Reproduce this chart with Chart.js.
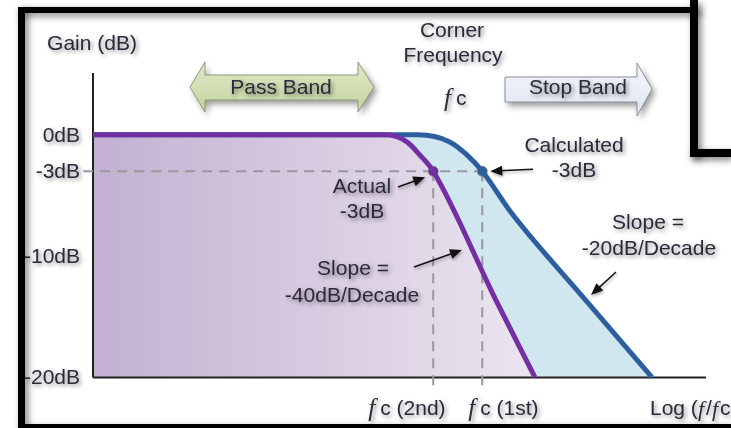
<!DOCTYPE html>
<html>
<head>
<meta charset="utf-8">
<script src="https://cdn.jsdelivr.net/npm/chart.js@4.4.1/dist/chart.umd.min.js"></script>
<style>
  html, body { margin: 0; padding: 0; background: #fff; }
  canvas { display: block; }
</style>
</head>
<body>
<canvas id="filterChart" width="731" height="428"></canvas>
<script>
// gain axis (dB)
const gainTicks = [0, -3, -10, -20];
const gainLabels = ['0dB', '-3dB', '-10dB', '-20dB'];

// x = log(f/fc), arbitrary units (0..10 across the axis)
// actual 2nd order response (purple)
const actualX    = [0, 4.80, 5.12, 5.33, 5.55, 6.57, 7.21];
const actualGain = [0, 0, -0.58, -1.65, -3, -13.6, -20];

// calculated 1st order response (blue)
const calcX    = [0, 5.30, 5.82, 6.10, 6.35, 6.84, 7.98, 9.12];
const calcGain = [0, 0, -0.58, -1.65, -3, -6.53, -13.3, -20];

// -3dB corner points: 2nd, 1st
const cornerX = [5.55, 6.35];
const cornerGain = -3;
const cornerLabels = ['c (2nd)', 'c (1st)'];

const FONT = '21px "Liberation Sans", Arial, sans-serif';
const INK = '#2a2a3a';

function pts(xs, ys) {
  return xs.map((x, i) => ({ x: x, y: ys[i] }));
}

function txt(ctx, s, x, y, align, font) {
  ctx.save();
  ctx.font = font || FONT;
  ctx.textAlign = align || 'center';
  ctx.textBaseline = 'alphabetic';
  ctx.shadowColor = 'rgba(0,0,0,0.45)';
  ctx.shadowBlur = 4;
  ctx.shadowOffsetX = 2;
  ctx.shadowOffsetY = 2;
  ctx.fillStyle = INK;
  ctx.fillText(s, x, y);
  ctx.restore();
}

// f in italic + rest in plain text
function fLabel(ctx, rest, x, y) {
  txt(ctx, 'f', x, y + 1, 'left', 'italic 25px "Liberation Serif", serif');
  txt(ctx, rest, x + 12, y, 'left');
}

function arrow(ctx, x1, y1, x2, y2) {
  const a = Math.atan2(y2 - y1, x2 - x1);
  const c = Math.cos(a), s = Math.sin(a);
  ctx.save();
  ctx.shadowColor = 'rgba(0,0,0,0.3)';
  ctx.shadowBlur = 3;
  ctx.shadowOffsetX = 1;
  ctx.shadowOffsetY = 2;
  ctx.strokeStyle = '#111';
  ctx.fillStyle = '#111';
  ctx.lineWidth = 1.5;
  ctx.beginPath();
  ctx.moveTo(x1, y1);
  ctx.lineTo(x2 - 9 * c, y2 - 9 * s);
  ctx.stroke();
  ctx.beginPath();
  ctx.moveTo(x2, y2);
  ctx.lineTo(x2 - 12 * c + 5 * s, y2 - 12 * s - 5 * c);
  ctx.lineTo(x2 - 12 * c - 5 * s, y2 - 12 * s + 5 * c);
  ctx.closePath();
  ctx.fill();
  ctx.restore();
}

function bandArrow(ctx, shape, c1, c2, stroke) {
  ctx.save();
  ctx.beginPath();
  shape.forEach((p, i) => i ? ctx.lineTo(p[0], p[1]) : ctx.moveTo(p[0], p[1]));
  ctx.closePath();
  const g = ctx.createLinearGradient(0, 62, 0, 116);
  g.addColorStop(0, c1);
  g.addColorStop(1, c2);
  ctx.fillStyle = g;
  ctx.shadowColor = 'rgba(0,0,0,0.4)';
  ctx.shadowBlur = 6;
  ctx.shadowOffsetX = 3;
  ctx.shadowOffsetY = 4;
  ctx.fill();
  ctx.shadowColor = 'transparent';
  ctx.strokeStyle = stroke;
  ctx.lineWidth = 1;
  ctx.stroke();
  ctx.restore();
}

const decor = {
  id: 'decor',
  beforeDraw(chart) {
    const ctx = chart.ctx;
    ctx.save();
    ctx.fillStyle = '#fff';
    ctx.fillRect(0, 0, chart.width, chart.height);
    ctx.restore();
  },
  afterDraw(chart) {
    const ctx = chart.ctx;
    const sx = chart.scales.x, sy = chart.scales.y;

    // frame
    ctx.save();
    ctx.fillStyle = '#000';
    ctx.shadowColor = 'rgba(0,0,0,0.5)';
    ctx.shadowBlur = 7;
    ctx.shadowOffsetX = 3;
    ctx.shadowOffsetY = 3;
    ctx.fillRect(18, 7, 680, 6);
    ctx.fillRect(18, 7, 7, 421);
    ctx.fillRect(690, 0, 8, 157);
    ctx.fillRect(690, 149, 41, 8);
    ctx.fillRect(18, 424, 713, 4);
    ctx.restore();

    // y tick labels
    gainTicks.forEach((v, i) => {
      txt(ctx, gainLabels[i], 80, sy.getPixelForValue(v) + 7, 'right');
    });
    txt(ctx, 'Gain (dB)', 92, 50);

    // band arrows
    bandArrow(ctx, [[190, 87], [205, 62], [205, 75], [358, 75], [358, 62], [374, 87],
      [358, 112], [358, 100], [205, 100], [205, 112]], '#dfe8c8', '#c3d39c', '#8d9c78');
    txt(ctx, 'Pass Band', 281, 94);
    bandArrow(ctx, [[505, 77], [637, 77], [637, 63], [652, 89], [637, 116], [637, 102],
      [505, 102]], '#f4f7fb', '#dfe6f0', '#8a8f99');
    txt(ctx, 'Stop Band', 578, 94);

    // corner frequency heading
    txt(ctx, 'Corner', 452, 37);
    txt(ctx, 'Frequency', 453, 62);
    fLabel(ctx, 'c', 444, 105);

    // callouts
    const p2 = sx.getPixelForValue(cornerX[0]);
    const p1 = sx.getPixelForValue(cornerX[1]);
    const pm = sy.getPixelForValue(cornerGain);
    txt(ctx, 'Calculated', 574, 152);
    txt(ctx, '-3dB', 574, 177);
    arrow(ctx, 533, pm - 2, p1 + 8, pm);
    txt(ctx, 'Actual', 362, 193);
    txt(ctx, '-3dB', 362, 218);
    arrow(ctx, 398, 187, p2 - 8, pm + 6);
    txt(ctx, 'Slope =', 353, 275);
    txt(ctx, '-40dB/Decade', 352, 302);
    arrow(ctx, 414, 267, 462, 250);
    txt(ctx, 'Slope =', 648, 229);
    txt(ctx, '-20dB/Decade', 649, 255);
    arrow(ctx, 616, 272, 591, 295);

    // x labels
    fLabel(ctx, cornerLabels[0], p2 - 65, 415);
    fLabel(ctx, cornerLabels[1], p1 - 14, 415);
    txt(ctx, 'Log (', 650, 415, 'left');
    txt(ctx, 'f', 698, 416, 'left', 'italic 22px "Liberation Serif", serif');
    txt(ctx, '/', 706, 415, 'left');
    txt(ctx, 'f', 712, 416, 'left', 'italic 22px "Liberation Serif", serif');
    txt(ctx, 'c', 720, 415, 'left');
  }
};

function purpleFill(context) {
  const area = context.chart.chartArea;
  if (!area) return '#d6c9e0';
  const g = context.chart.ctx.createLinearGradient(area.left, 0, area.left + 480, 0);
  g.addColorStop(0, '#c3b0d2');
  g.addColorStop(1, '#efeaf2');
  return g;
}

const ctx = document.getElementById('filterChart').getContext('2d');
const filterChart = new Chart(ctx, {
  type: 'scatter',
  data: {
    datasets: [
      {
        label: 'Actual',
        data: pts(actualX, actualGain),
        showLine: true,
        cubicInterpolationMode: 'monotone',
        borderColor: '#7430a3',
        borderWidth: 5,
        pointRadius: 0,
        fill: { value: -20 },
        backgroundColor: purpleFill,
        clip: false
      },
      {
        label: 'Calculated',
        data: pts(calcX, calcGain),
        showLine: true,
        cubicInterpolationMode: 'monotone',
        borderColor: '#2d5f9e',
        borderWidth: 5,
        pointRadius: 0,
        fill: { value: -20 },
        backgroundColor: '#d0e7f0',
        clip: false
      },
      {
        label: 'corners',
        data: cornerX.map(x => ({ x: x, y: cornerGain })),
        showLine: false,
        pointRadius: 5,
        pointBackgroundColor: ['#6b2a93', '#2d5f9e'],
        pointBorderColor: '#8a8a8a',
        pointBorderWidth: 1,
        clip: false
      },
      {
        label: 'h-3dB',
        data: [{ x: -0.16, y: cornerGain }, { x: cornerX[1], y: cornerGain }],
        showLine: true,
        borderColor: '#999',
        borderWidth: 2,
        borderDash: [10, 7],
        pointRadius: 0,
        clip: false
      },
      {
        label: 'v2nd',
        data: [{ x: cornerX[0], y: cornerGain }, { x: cornerX[0], y: -21.2 }],
        showLine: true,
        borderColor: '#999',
        borderWidth: 2,
        borderDash: [10, 7],
        pointRadius: 0,
        clip: false
      },
      {
        label: 'v1st',
        data: [{ x: cornerX[1], y: cornerGain }, { x: cornerX[1], y: -21.2 }],
        showLine: true,
        borderColor: '#999',
        borderWidth: 2,
        borderDash: [10, 7],
        pointRadius: 0,
        clip: false
      },
      {
        label: 'yAxis',
        data: [{ x: 0, y: 5.1 }, { x: 0, y: -20 }],
        showLine: true,
        borderColor: '#222',
        borderWidth: 2,
        pointRadius: 0,
        clip: false
      },
      {
        label: 'xAxis',
        data: [{ x: 0, y: -20 }, { x: 10, y: -20 }],
        showLine: true,
        borderColor: '#222',
        borderWidth: 2,
        pointRadius: 0,
        clip: false
      }
    ]
  },
  options: {
    responsive: false,
    animation: false,
    layout: { padding: { left: 93, right: 25, top: 73, bottom: 36 } },
    scales: {
      x: { type: 'linear', min: 0, max: 10, display: false },
      y: { min: -21.2, max: 5.1, display: false }
    },
    plugins: {
      legend: { display: false },
      tooltip: { enabled: false },
      filler: { drawTime: 'beforeDatasetsDraw' }
    }
  },
  plugins: [decor]
});
</script>
</body>
</html>
